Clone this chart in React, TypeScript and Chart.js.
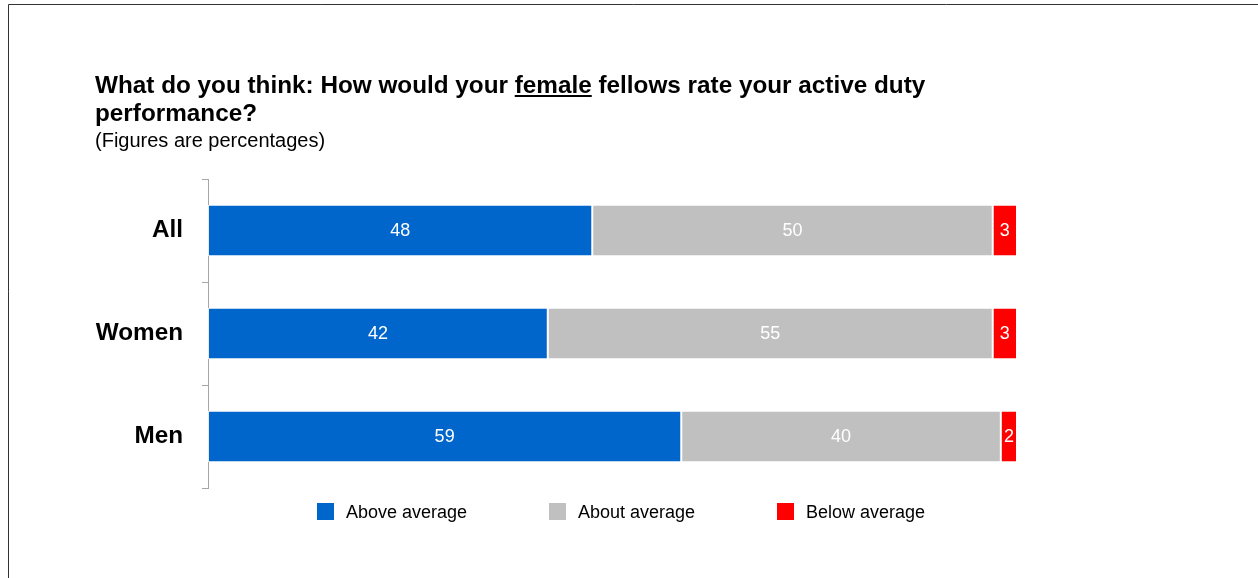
import React, { useEffect, useRef } from "react";
import { Chart, registerables } from "chart.js";

Chart.register(...registerables);

const categories = ["All", "Women", "Men"];
const seriesNames = ["Above average", "About average", "Below average"];
const aboveAverage = [47.5, 42, 58.5];
const aboutAverage = [49.5, 55, 39.5];
const belowAverage = [3, 3, 2];
const seriesColors = ["#0066CC", "#C0C0C0", "#FF0000"];

const titleBefore = "What do you think: How would your ";
const titleUnderlined = "female";
const titleAfter = " fellows rate your active duty";
const titleLine2 = "performance?";
const subtitle = "(Figures are percentages)";

const FONT = "'Liberation Sans', Arial, Helvetica, sans-serif";

const framePlugin = {
  id: "frame",
  beforeDraw(chart: any) {
    const ctx = chart.ctx;
    ctx.save();
    ctx.fillStyle = "#ffffff";
    ctx.fillRect(0, 0, chart.width, chart.height);
    ctx.strokeStyle = "#333333";
    ctx.lineWidth = 1;
    ctx.beginPath();
    ctx.moveTo(8.5, chart.height + 5);
    ctx.lineTo(8.5, 4.5);
    ctx.lineTo(chart.width + 5, 4.5);
    ctx.stroke();
    ctx.restore();
  },
};

const titlePlugin = {
  id: "customTitle",
  afterDraw(chart: any) {
    const ctx = chart.ctx;
    ctx.save();
    ctx.fillStyle = "#000000";
    ctx.textBaseline = "alphabetic";
    ctx.textAlign = "left";
    const x0 = 95;
    ctx.font = `bold 24.3px ${FONT}`;
    let x = x0;
    ctx.fillText(titleBefore, x, 92.5);
    x += ctx.measureText(titleBefore).width;
    ctx.fillText(titleUnderlined, x, 92.5);
    const uw = ctx.measureText(titleUnderlined).width;
    ctx.fillRect(x, 95, uw, 2);
    x += uw;
    ctx.fillText(titleAfter, x, 92.5);
    ctx.fillText(titleLine2, x0, 121);
    ctx.font = `20px ${FONT}`;
    ctx.fillText(subtitle, x0, 147);
    ctx.restore();
  },
};

const dataLabelPlugin = {
  id: "dataLabels",
  afterDatasetsDraw(chart: any) {
    const ctx = chart.ctx;
    ctx.save();
    ctx.font = `18px ${FONT}`;
    ctx.fillStyle = "#ffffff";
    ctx.textAlign = "center";
    ctx.textBaseline = "middle";
    chart.data.datasets.forEach((ds: any, di: number) => {
      const meta = chart.getDatasetMeta(di);
      meta.data.forEach((el: any, i: number) => {
        const v = ds.data[i];
        const cx = (el.x + el.base) / 2;
        ctx.fillText(String(Math.round(v)), cx, el.y + 1);
      });
    });
    ctx.restore();
  },
};

const legendPlugin = {
  id: "customLegend",
  afterDraw(chart: any) {
    const ctx = chart.ctx;
    const area = chart.chartArea;
    ctx.save();
    ctx.font = `18px ${FONT}`;
    const box = 17;
    const gap = 12;
    const spacing = 82;
    const items = chart.data.datasets.map((ds: any) => ({
      label: ds.label,
      color: ds.backgroundColor,
      w: box + gap + ctx.measureText(ds.label).width,
    }));
    const total = items.reduce((s: number, it: any) => s + it.w, 0) + spacing * (items.length - 1);
    const centerX = (area.left + area.right) / 2 + 8.5;
    const cy = area.bottom + 23.5;
    let x = centerX - total / 2;
    ctx.textBaseline = "middle";
    ctx.textAlign = "left";
    items.forEach((it: any) => {
      ctx.fillStyle = it.color;
      ctx.fillRect(Math.round(x), Math.round(cy - box / 2), box, box);
      ctx.fillStyle = "#000000";
      ctx.fillText(it.label, x + box + gap, cy + 2);
      x += it.w + spacing;
    });
    ctx.restore();
  },
};

export default function App() {
  const canvasRef = useRef<HTMLCanvasElement | null>(null);

  useEffect(() => {
    const canvas = canvasRef.current;
    if (!canvas) return;
    const series = [aboveAverage, aboutAverage, belowAverage];
    const chart = new Chart(canvas, {
      type: "bar",
      data: {
        labels: categories,
        datasets: series.map((data, i) => ({
          label: seriesNames[i],
          data,
          backgroundColor: seriesColors[i],
          borderColor: "rgba(255,255,255,0.75)",
          borderWidth: 1,
          borderSkipped: false,
          categoryPercentage: 1,
          barPercentage: 0.5,
        })),
      },
      options: {
        indexAxis: "y",
        responsive: false,
        animation: false,
        events: [],
        layout: { padding: { left: 0, right: 241, top: 179, bottom: 90 } },
        plugins: {
          legend: { display: false },
          title: { display: false },
          tooltip: { enabled: false },
        },
        scales: {
          x: {
            stacked: true,
            min: 0,
            max: 100,
            display: false,
          },
          y: {
            stacked: true,
            afterFit(scale: any) {
              scale.width = 208;
            },
            grid: {
              display: true,
              drawOnChartArea: false,
              drawTicks: true,
              tickLength: 6,
              color: "#A6A6A6",
              lineWidth: 1,
              offset: true,
            },
            border: { display: true, color: "#A6A6A6", width: 1 },
            ticks: {
              color: "#000000",
              padding: 19,
              font: { family: FONT, size: 24.3, weight: "bold" },
            },
          },
        },
      },
      plugins: [framePlugin, titlePlugin, dataLabelPlugin, legendPlugin],
    } as any);
    return () => chart.destroy();
  }, []);

  return (
    <div style={{ position: "fixed", left: 0, top: 0, width: 1258, height: 578, overflow: "hidden", background: "#fff" }}>
      <canvas ref={canvasRef} width={1258} height={578} style={{ display: "block" }} />
    </div>
  );
}
